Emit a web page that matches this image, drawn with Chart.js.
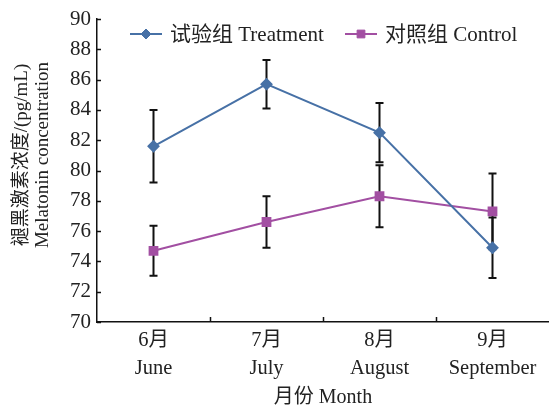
<!DOCTYPE html>
<html>
<head>
<meta charset="utf-8">
<script src="https://cdn.jsdelivr.net/npm/chart.js@4/dist/chart.umd.min.js"></script>
<style>
  html, body { margin: 0; padding: 0; background: #fff; }
  #wrap { width: 549px; height: 410px; }
</style>
</head>
<body>
<div id="wrap"><canvas id="c" width="549" height="410"></canvas></div>
<script>
// Months (Chinese / English)
const monthsCn = ['6月', '7月', '8月', '9月'];
const monthsEn = ['June', 'July', 'August', 'September'];

// Melatonin concentration (pg/mL), mean and error
const treatment = [81.6, 85.7, 82.5, 74.9];
const treatmentErr = [2.4, 1.6, 1.95, 2.0];
const control = [74.7, 76.6, 78.3, 77.3];
const controlErr = [1.65, 1.7, 2.05, 2.5];

// Y axis range and title lines
const yMin = 70, yMax = 90, yStep = 2;
const yTitle = ['褪黑激素浓度/(pg/mL)', 'Melatonin concentration'];

const FONT = "'Liberation Serif', 'Noto Sans CJK SC', serif";
const BLUE = '#4771a6';
const PURPLE = '#a24fa2';

const labels = monthsCn.map((m, i) => [m, monthsEn[i]]);

// Vertical error bars with caps, drawn beneath the markers
const errorBars = {
  id: 'errorBars',
  beforeDatasetsDraw(chart) {
    const ctx = chart.ctx;
    const y = chart.scales.y;
    ctx.save();
    ctx.strokeStyle = '#111';
    ctx.lineWidth = 2;
    chart.data.datasets.forEach((ds, di) => {
      const meta = chart.getDatasetMeta(di);
      meta.data.forEach((pt, i) => {
        const v = ds.data[i], e = ds.errors[i];
        const top = y.getPixelForValue(v + e);
        const bot = y.getPixelForValue(v - e);
        const x = pt.x;
        ctx.beginPath();
        ctx.moveTo(x, top); ctx.lineTo(x, bot);
        ctx.moveTo(x - 4, top); ctx.lineTo(x + 4, top);
        ctx.moveTo(x - 4, bot); ctx.lineTo(x + 4, bot);
        ctx.stroke();
      });
    });
    ctx.restore();
  }
};

// Inward tick marks on both axes, plus the rotated two-line y title
const axisExtras = {
  id: 'axisExtras',
  afterDraw(chart) {
    const ctx = chart.ctx;
    const xs = chart.scales.x, ys = chart.scales.y;
    const area = chart.chartArea;
    ctx.save();
    ctx.strokeStyle = '#111';
    ctx.lineWidth = 1.5;
    ctx.beginPath();
    ys.ticks.forEach(t => {
      const py = Math.round(ys.getPixelForValue(t.value)) + 0.5;
      ctx.moveTo(area.left, py); ctx.lineTo(area.left + 4, py);
    });
    for (let i = 0; i < xs.ticks.length - 1; i++) {
      const px = Math.round((xs.getPixelForValue(i) + xs.getPixelForValue(i + 1)) / 2) + 0.5;
      ctx.moveTo(px, area.bottom); ctx.lineTo(px, area.bottom - 5);
    }
    ctx.stroke();

    ctx.fillStyle = '#222';
    ctx.font = '19px ' + FONT;
    ctx.textAlign = 'center';
    ctx.textBaseline = 'middle';
    const cy = 155;
    [22, 43].forEach((cx, i) => {
      ctx.save();
      ctx.translate(cx, cy);
      ctx.rotate(-Math.PI / 2);
      ctx.fillText(yTitle[i], 0, 0);
      ctx.restore();
    });
    ctx.restore();
  }
};

// Legend inside the plot area: line with marker, then label
const innerLegend = {
  id: 'innerLegend',
  afterDraw(chart) {
    const ctx = chart.ctx;
    const items = [
      { ds: chart.data.datasets[0], x: 130 },
      { ds: chart.data.datasets[1], x: 345 }
    ];
    const ly = 34;
    ctx.save();
    items.forEach(it => {
      const ds = it.ds;
      ctx.strokeStyle = ds.borderColor;
      ctx.lineWidth = 2;
      ctx.beginPath();
      ctx.moveTo(it.x, ly); ctx.lineTo(it.x + 32, ly);
      ctx.stroke();
      ctx.fillStyle = ds.pointBackgroundColor;
      ctx.strokeStyle = ds.pointBorderColor;
      ctx.lineWidth = 1;
      Chart.helpers.drawPoint(ctx, { pointStyle: ds.pointStyle, radius: ds.pointRadius, borderWidth: 1 }, it.x + 16, ly);
      ctx.fillStyle = '#222';
      ctx.font = '21px ' + FONT;
      ctx.textBaseline = 'middle';
      ctx.textAlign = 'left';
      ctx.fillText(ds.label, it.x + 40, ly + 1);
    });
    ctx.restore();
  }
};

new Chart(document.getElementById('c'), {
  type: 'line',
  data: {
    labels: labels,
    datasets: [
      {
        label: '试验组 Treatment',
        data: treatment,
        errors: treatmentErr,
        borderColor: BLUE,
        backgroundColor: BLUE,
        pointBackgroundColor: BLUE,
        pointBorderColor: BLUE,
        pointStyle: 'rectRot',
        pointRadius: 5,
        borderWidth: 2,
        tension: 0
      },
      {
        label: '对照组 Control',
        data: control,
        errors: controlErr,
        borderColor: PURPLE,
        backgroundColor: PURPLE,
        pointBackgroundColor: PURPLE,
        pointBorderColor: PURPLE,
        pointStyle: 'rect',
        pointRadius: 5.5,
        borderWidth: 2,
        tension: 0
      }
    ]
  },
  options: {
    responsive: false,
    animation: false,
    layout: { autoPadding: false, padding: { top: 19, right: 0, left: 0, bottom: 0 } },
    plugins: {
      legend: { display: false },
      tooltip: { enabled: false }
    },
    scales: {
      x: {
        offset: true,
        grid: { display: true, drawOnChartArea: false, drawTicks: false, offset: true, color: 'transparent' },
        border: { display: true, color: '#111', width: 1.5 },
        ticks: {
          color: '#222',
          font: { family: FONT, size: 20.5, lineHeight: 1.35 },
          padding: 5,
          maxRotation: 0
        },
        title: {
          display: true,
          text: '月份 Month',
          color: '#222',
          font: { family: FONT, size: 20 },
          padding: { top: 0, bottom: 0 }
        },
        afterFit(s) { s.height = 88; s.paddingLeft = 0; s.paddingRight = 0; }
      },
      y: {
        min: yMin,
        max: yMax,
        grid: { display: true, drawOnChartArea: false, drawTicks: false, color: 'transparent' },
        border: { display: true, color: '#111', width: 1.5 },
        ticks: {
          stepSize: yStep,
          color: '#222',
          font: { family: FONT, size: 21 },
          padding: 6
        },
        afterFit(s) { s.width = 97; s.paddingTop = 0; s.paddingBottom = 0; }
      }
    }
  },
  plugins: [errorBars, axisExtras, innerLegend]
});
</script>
</body>
</html>
